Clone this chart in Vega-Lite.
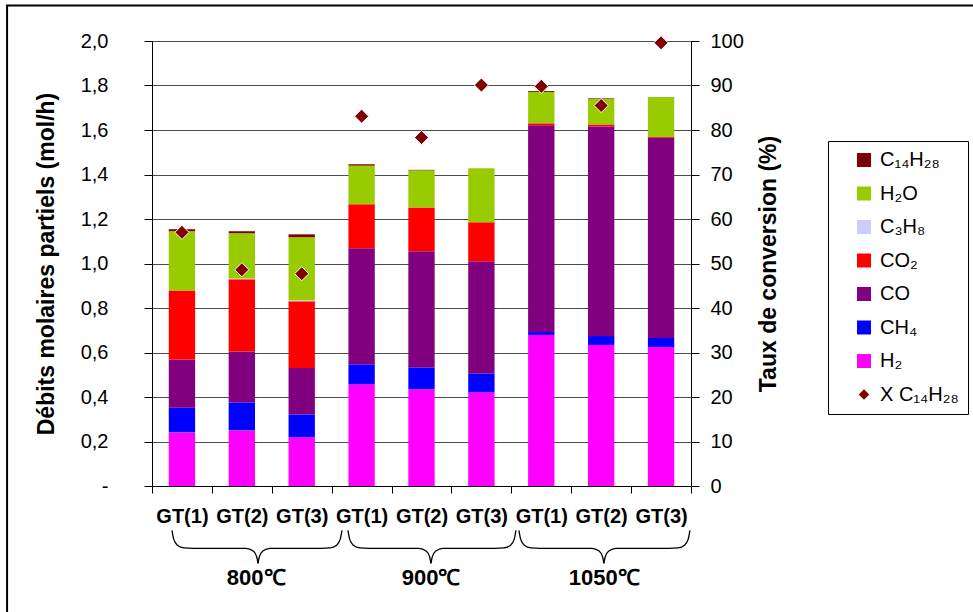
{
  "$schema": "https://vega.github.io/schema/vega-lite/v6.json",
  "width": 539,
  "height": 445,
  "autosize": "none",
  "padding": {"left": 152, "top": 41, "right": 282, "bottom": 126},
  "background": "white",
  "config": {
    "font": "Liberation Sans",
    "view": {"stroke": null},
    "axis": {"labelFont": "Liberation Sans", "titleFont": "Liberation Sans", "labelColor": "black", "titleColor": "black", "domainColor": "black", "tickColor": "black", "domainWidth": 1, "tickWidth": 1}
  },
  "datasets": {
    "bars": [
      {"cat": "800|GT(1)", "H2": 0.241, "CH4": 0.111, "CO": 0.217, "CO2": 0.310, "C3H8": 0.0, "H2O": 0.266, "C14H28": 0.009, "X": 57.0},
      {"cat": "800|GT(2)", "H2": 0.250, "CH4": 0.126, "CO": 0.229, "CO2": 0.324, "C3H8": 0.004, "H2O": 0.203, "C14H28": 0.009, "X": 48.6},
      {"cat": "800|GT(3)", "H2": 0.219, "CH4": 0.103, "CO": 0.208, "CO2": 0.300, "C3H8": 0.005, "H2O": 0.283, "C14H28": 0.013, "X": 47.7},
      {"cat": "900|GT(1)", "H2": 0.457, "CH4": 0.090, "CO": 0.521, "CO2": 0.198, "C3H8": 0.0, "H2O": 0.174, "C14H28": 0.006, "X": 83.1},
      {"cat": "900|GT(2)", "H2": 0.435, "CH4": 0.098, "CO": 0.522, "CO2": 0.197, "C3H8": 0.0, "H2O": 0.167, "C14H28": 0.002, "X": 78.3},
      {"cat": "900|GT(3)", "H2": 0.421, "CH4": 0.085, "CO": 0.504, "CO2": 0.175, "C3H8": 0.0, "H2O": 0.243, "C14H28": 0.0, "X": 90.1},
      {"cat": "1050|GT(1)", "H2": 0.679, "CH4": 0.013, "CO": 0.929, "CO2": 0.009, "C3H8": 0.0, "H2O": 0.141, "C14H28": 0.004, "X": 89.8},
      {"cat": "1050|GT(2)", "H2": 0.634, "CH4": 0.040, "CO": 0.942, "CO2": 0.009, "C3H8": 0.0, "H2O": 0.114, "C14H28": 0.003, "X": 85.5},
      {"cat": "1050|GT(3)", "H2": 0.625, "CH4": 0.040, "CO": 0.900, "CO2": 0.003, "C3H8": 0.0, "H2O": 0.180, "C14H28": 0.0, "X": 99.6}
    ],
    "species": [
      {"key": "H2", "o": 1, "name": "H₂"},
      {"key": "CH4", "o": 2, "name": "CH₄"},
      {"key": "CO", "o": 3, "name": "CO"},
      {"key": "CO2", "o": 4, "name": "CO₂"},
      {"key": "C3H8", "o": 5, "name": "C₃H₈"},
      {"key": "H2O", "o": 6, "name": "H₂O"},
      {"key": "C14H28", "o": 7, "name": "C₁₄H₂₈"}
    ],
    "braces": [
      {"g": "a1", "u": 0.334, "w": -0.199}, {"g": "a1", "u": 0.364, "w": -0.240}, {"g": "a1", "u": 0.424, "w": -0.266}, {"g": "a1", "u": 0.534, "w": -0.278}, {"g": "a1", "u": 0.684, "w": -0.280}, {"g": "a1", "u": 1.570, "w": -0.280}, {"g": "a1", "u": 1.690, "w": -0.292}, {"g": "a1", "u": 1.750, "w": -0.320}, {"g": "a1", "u": 1.770, "w": -0.348},
      {"g": "a2", "u": 1.770, "w": -0.348}, {"g": "a2", "u": 1.790, "w": -0.320}, {"g": "a2", "u": 1.850, "w": -0.292}, {"g": "a2", "u": 1.970, "w": -0.280}, {"g": "a2", "u": 2.822, "w": -0.280}, {"g": "a2", "u": 2.972, "w": -0.278}, {"g": "a2", "u": 3.082, "w": -0.266}, {"g": "a2", "u": 3.142, "w": -0.240}, {"g": "a2", "u": 3.172, "w": -0.199},
      {"g": "b1", "u": 3.272, "w": -0.199}, {"g": "b1", "u": 3.302, "w": -0.240}, {"g": "b1", "u": 3.362, "w": -0.266}, {"g": "b1", "u": 3.472, "w": -0.278}, {"g": "b1", "u": 3.622, "w": -0.280}, {"g": "b1", "u": 4.458, "w": -0.280}, {"g": "b1", "u": 4.578, "w": -0.292}, {"g": "b1", "u": 4.638, "w": -0.320}, {"g": "b1", "u": 4.658, "w": -0.348},
      {"g": "b2", "u": 4.658, "w": -0.348}, {"g": "b2", "u": 4.678, "w": -0.320}, {"g": "b2", "u": 4.738, "w": -0.292}, {"g": "b2", "u": 4.858, "w": -0.280}, {"g": "b2", "u": 5.727, "w": -0.280}, {"g": "b2", "u": 5.877, "w": -0.278}, {"g": "b2", "u": 5.987, "w": -0.266}, {"g": "b2", "u": 6.047, "w": -0.240}, {"g": "b2", "u": 6.077, "w": -0.199},
      {"g": "c1", "u": 6.127, "w": -0.199}, {"g": "c1", "u": 6.157, "w": -0.240}, {"g": "c1", "u": 6.217, "w": -0.266}, {"g": "c1", "u": 6.327, "w": -0.278}, {"g": "c1", "u": 6.477, "w": -0.280}, {"g": "c1", "u": 7.346, "w": -0.280}, {"g": "c1", "u": 7.466, "w": -0.292}, {"g": "c1", "u": 7.526, "w": -0.320}, {"g": "c1", "u": 7.546, "w": -0.348},
      {"g": "c2", "u": 7.546, "w": -0.348}, {"g": "c2", "u": 7.566, "w": -0.320}, {"g": "c2", "u": 7.626, "w": -0.292}, {"g": "c2", "u": 7.746, "w": -0.280}, {"g": "c2", "u": 8.632, "w": -0.280}, {"g": "c2", "u": 8.782, "w": -0.278}, {"g": "c2", "u": 8.892, "w": -0.266}, {"g": "c2", "u": 8.952, "w": -0.240}, {"g": "c2", "u": 8.982, "w": -0.199}
    ],
    "temps": [
      {"t": "800℃", "p": 1.74},
      {"t": "900℃", "p": 4.66},
      {"t": "1050℃", "p": 7.55}
    ]
  },
  "layer": [
    {
      "data": {"name": "bars"},
      "layer": [
        {
          "transform": [
            {"fold": ["H2", "CH4", "CO", "CO2", "C3H8", "H2O", "C14H28"]},
            {"lookup": "key", "from": {"data": {"name": "species"}, "key": "key", "fields": ["o", "name"]}}
          ],
          "mark": {"type": "bar", "width": {"band": 0.44}},
          "encoding": {
            "x": {
              "field": "cat", "type": "nominal", "sort": null,
              "scale": {"paddingInner": 0, "paddingOuter": 0},
              "axis": {"orient": "bottom", "title": null, "labelExpr": "split(datum.label, '|')[1]", "labelAngle": 0, "labelFontSize": 20, "labelFontWeight": "bold", "labelPadding": 13, "tickSize": 7, "tickBand": "extent", "labelOverlap": false, "grid": false}
            },
            "y": {
              "field": "value", "type": "quantitative", "stack": "zero",
              "scale": {"domain": [0, 2], "nice": false},
              "axis": {"orient": "left", "values": [0, 0.2, 0.4, 0.6, 0.8, 1.0, 1.2, 1.4, 1.6, 1.8, 2.0], "labelExpr": "datum.value == 0 ? '-' : replace(format(datum.value, '.1f'), '.', ',')", "labelFontSize": 20, "labelPadding": 36, "tickSize": 8, "title": "Débits molaires partiels (mol/h)", "titleFontSize": 23, "titleFontWeight": "bold", "titlePadding": 22, "grid": true, "gridColor": "#4d4d4d", "gridWidth": 1}
            },
            "color": {
              "field": "name", "type": "nominal",
              "scale": {
                "domain": ["C₁₄H₂₈", "H₂O", "C₃H₈", "CO₂", "CO", "CH₄", "H₂", "X C₁₄H₂₈"],
                "range": ["#800000", "#99CC00", "#CCCCFF", "#FF0000", "#800080", "#0000FF", "#FF00FF", "#800000"]
              },
              "legend": {
                "title": null, "orient": "none", "legendX": 676, "legendY": 100,
                "strokeColor": "black", "fillColor": "white", "padding": 9, "symbolOffset": 17,
                "rowPadding": 13.5, "labelFontSize": 20, "labelFont": "Liberation Sans", "labelColor": "black",
                "symbolSize": 196, "symbolType": "square", "symbolStrokeWidth": 0, "labelOffset": 6, "labelLimit": 200,
                "encode": {"symbols": {"update": {"shape": {"signal": "datum.value === 'X C₁₄H₂₈' ? 'diamond' : 'square'"}, "size": {"signal": "datum.value === 'X C₁₄H₂₈' ? 110 : 196"}}}}
              }
            },
            "order": {"field": "o", "type": "quantitative", "sort": "ascending"}
          }
        },
        {
          "mark": {"type": "point", "shape": "diamond", "filled": true, "color": "#800000", "stroke": "white", "strokeWidth": 1, "size": 200, "opacity": 1},
          "encoding": {
            "x": {"field": "cat", "type": "nominal", "sort": null},
            "y": {
              "field": "X", "type": "quantitative",
              "scale": {"domain": [0, 100], "nice": false},
              "axis": {"orient": "right", "values": [0, 10, 20, 30, 40, 50, 60, 70, 80, 90, 100], "labelFontSize": 20, "labelPadding": 11, "tickSize": 8, "grid": false, "title": "Taux de conversion (%)", "titleFontSize": 23, "titleFontWeight": "bold", "titleAngle": 270, "titleBaseline": "top", "titlePadding": 14}
            }
          }
        }
      ],
      "resolve": {"scale": {"y": "independent"}}
    },
    {
      "layer": [
        {
          "data": {"name": "braces"},
          "mark": {"type": "line", "color": "black", "strokeWidth": 1.3, "interpolate": "monotone"},
          "encoding": {
            "x": {"field": "u", "type": "quantitative", "scale": {"domain": [0, 9], "nice": false, "zero": false}, "axis": null},
            "y": {"field": "w", "type": "quantitative", "scale": {"domain": [0, 2], "nice": false, "zero": false}, "axis": null},
            "detail": {"field": "g", "type": "nominal"}
          }
        },
        {
          "data": {"name": "temps"},
          "mark": {"type": "text", "fontSize": 22, "fontWeight": "bold", "font": "Liberation Sans", "color": "black", "align": "center", "baseline": "middle"},
          "encoding": {
            "x": {"field": "p", "type": "quantitative"},
            "y": {"datum": -0.415, "type": "quantitative"},
            "text": {"field": "t", "type": "nominal"}
          }
        },
        {
          "data": {"values": [{}]},
          "mark": {"type": "rect", "filled": false, "stroke": "black", "strokeWidth": 2},
          "encoding": {
            "x": {"datum": -2.42, "type": "quantitative"},
            "x2": {"datum": 14},
            "y": {"datum": 2.16, "type": "quantitative"},
            "y2": {"datum": -0.8}
          }
        }
      ]
    }
  ],
  "resolve": {"scale": {"x": "independent", "y": "independent"}}
}
